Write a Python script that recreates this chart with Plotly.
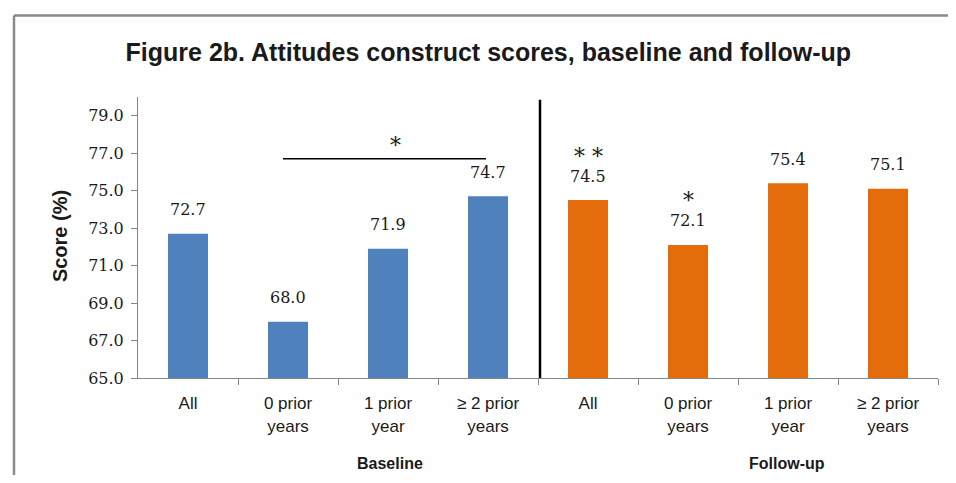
import plotly.graph_objects as go

categories = ["All", "0 prior<br>years", "1 prior<br>year", "≥ 2 prior<br>years",
              "All", "0 prior<br>years", "1 prior<br>year", "≥ 2 prior<br>years"]
groups = ["Baseline", "Follow-up"]
baseline_scores = [72.7, 68.0, 71.9, 74.7]
followup_scores = [74.5, 72.1, 75.4, 75.1]
followup_marks = ["* *", "*", "", ""]
y_ticks = [65.0, 67.0, 69.0, 71.0, 73.0, 75.0, 77.0, 79.0]

BLUE = "#4F81BD"
ORANGE = "#E46C0A"
AXIS_GREY = "#868686"
SERIF = "DejaVu Serif"
SANS = "Liberation Sans"

xb = [0, 1, 2, 3]
xf = [4, 5, 6, 7]

fig = go.Figure()
fig.add_trace(go.Bar(x=xb, y=[v - 65 for v in baseline_scores], base=65,
                     marker=dict(color=BLUE, line=dict(width=0)), width=0.4,
                     name=groups[0], showlegend=False, hoverinfo="skip"))
fig.add_trace(go.Bar(x=xf, y=[v - 65 for v in followup_scores], base=65,
                     marker=dict(color=ORANGE, line=dict(width=0)), width=0.4,
                     name=groups[1], showlegend=False, hoverinfo="skip"))

annotations = []
for xs, vals in ((xb, baseline_scores), (xf, followup_scores)):
    for x, v in zip(xs, vals):
        annotations.append(dict(x=x, y=v, xref="x", yref="y", text=f"{v:.1f}",
                                showarrow=False, yshift=24, yanchor="middle",
                                font=dict(family=SERIF, size=16, color="#1a1a1a")))
for x, v, m in zip(xf, followup_scores, followup_marks):
    if m:
        annotations.append(dict(x=x, y=v, xref="x", yref="y", text=m,
                                showarrow=False, yshift=44, yanchor="middle",
                                font=dict(family=SERIF, size=22, color="#1a1a1a")))
# significance bracket over baseline 0 prior .. >=2 prior
annotations.append(dict(x=2.07, y=76.7, xref="x", yref="y", text="*", showarrow=False,
                        yshift=13, yanchor="middle",
                        font=dict(family=SERIF, size=22, color="#1a1a1a")))
# group labels
annotations.append(dict(x=2.02, y=0, xref="x", yref="paper", text=f"<b>{groups[0]}</b>",
                        showarrow=False, yshift=-85, yanchor="middle",
                        font=dict(family=SANS, size=16, color="#1a1a1a")))
annotations.append(dict(x=5.99, y=0, xref="x", yref="paper", text=f"<b>{groups[1]}</b>",
                        showarrow=False, yshift=-85, yanchor="middle",
                        font=dict(family=SANS, size=16, color="#1a1a1a")))
annotations.append(dict(x=-0.1, y=0.505, xref="paper", yref="paper", text="<b>Score (%)</b>",
                        showarrow=False, textangle=-90, xanchor="center", yanchor="middle",
                        xshift=2, font=dict(family=SANS, size=20, color="#1a1a1a")))

shapes = [
    dict(type="line", xref="x", yref="y", x0=0.95, x1=2.98, y0=76.7, y1=76.7,
         line=dict(color="black", width=1.5)),
    dict(type="line", xref="x", yref="paper", x0=3.52, x1=3.52, y0=0, y1=0.99,
         line=dict(color="black", width=2.5)),
    # outer frame (top and left edges visible)
    dict(type="line", xref="paper", yref="paper", x0=-0.155, x1=1.1, y0=1.290, y1=1.290,
         line=dict(color="#8a8a8a", width=2.5)),
    dict(type="line", xref="paper", yref="paper", x0=-0.155, x1=-0.155, y0=-0.5, y1=1.290,
         line=dict(color="#8a8a8a", width=2.5)),
]

fig.update_layout(
    width=940, height=467,
    margin=dict(l=130, r=10, t=89, b=97),
    paper_bgcolor="white", plot_bgcolor="white",
    title=dict(text="<b>Figure 2b. Attitudes construct scores, baseline and follow-up</b>",
               x=0.511, xanchor="center", y=0.906, yanchor="middle",
               font=dict(family=SANS, size=25, color="#1a1a1a")),
    annotations=annotations, shapes=shapes,
    bargap=0.6,
    xaxis=dict(range=[-0.5, 7.5], tickvals=list(range(8)), ticktext=categories,
               ticks="", showline=True, linecolor=AXIS_GREY, linewidth=1,
               showgrid=False, zeroline=False, fixedrange=True,
               ticklabelstandoff=10,
               tickfont=dict(family=SANS, size=17, color="#1a1a1a"),
               minor=dict(tickmode="array", tickvals=[0.5 + i for i in range(8)],
                          ticks="outside", ticklen=6, tickcolor=AXIS_GREY, showgrid=False)),
    yaxis=dict(range=[65, 80], tickvals=y_ticks, ticktext=[f"{v:.1f}" for v in y_ticks],
               ticks="outside", ticklen=6, tickcolor=AXIS_GREY,
               showline=True, linecolor=AXIS_GREY, linewidth=1,
               showgrid=False, zeroline=False, fixedrange=True,
               ticklabelstandoff=4,
               tickfont=dict(family=SERIF, size=16, color="#1a1a1a")),
)

fig.write_html("out.html", config={"displayModeBar": False})
